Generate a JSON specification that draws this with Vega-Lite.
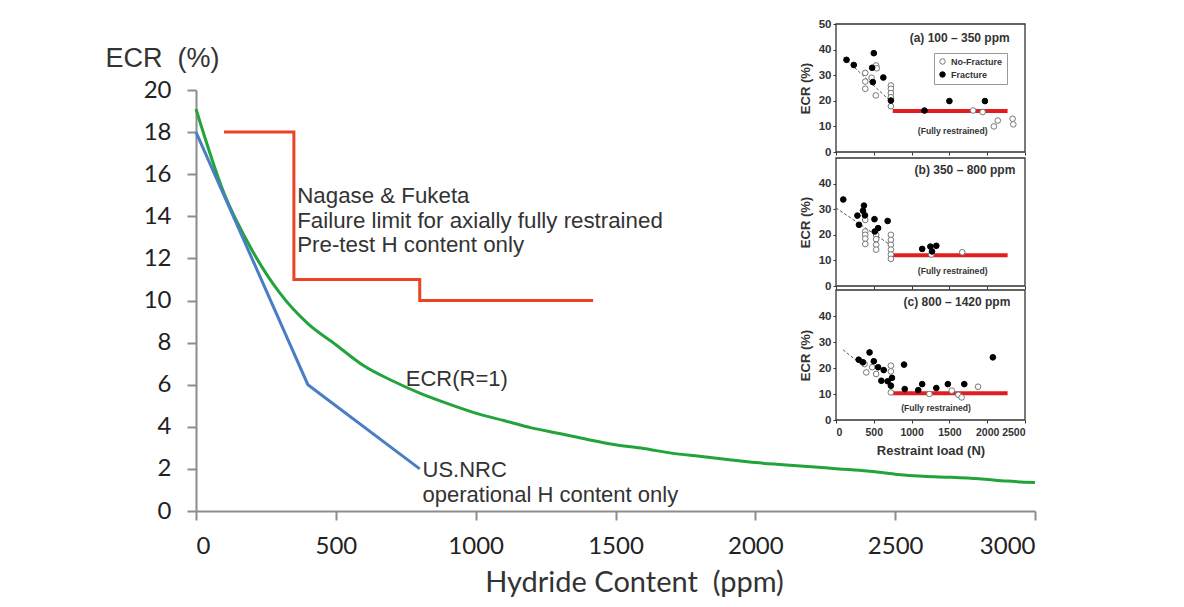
{
  "$schema": "https://vega.github.io/schema/vega-lite/v6.json",
  "width": 839,
  "height": 421,
  "autosize": {"type": "none"},
  "padding": {"left": 196, "top": 90, "right": 149, "bottom": 96},
  "background": "white",
  "config": {"view": {"stroke": null}},
  "datasets": {
    "nagase": [
      {"i": 1, "ppm": 100, "ecr": 18}, {"i": 2, "ppm": 350, "ecr": 18}, {"i": 3, "ppm": 350, "ecr": 11},
      {"i": 4, "ppm": 800, "ecr": 11}, {"i": 5, "ppm": 800, "ecr": 10}, {"i": 6, "ppm": 1420, "ecr": 10}
    ],
    "nrc": [
      {"ppm": 0, "ecr": 18}, {"ppm": 400, "ecr": 6}, {"ppm": 800, "ecr": 2}
    ],
    "ecr1": [
      {"ppm": 0, "ecr": 19.1}, {"ppm": 100, "ecr": 15.1}, {"ppm": 200, "ecr": 12.4}, {"ppm": 300, "ecr": 10.35},
      {"ppm": 400, "ecr": 8.9}, {"ppm": 500, "ecr": 7.9}, {"ppm": 600, "ecr": 6.9}, {"ppm": 700, "ecr": 6.2},
      {"ppm": 800, "ecr": 5.6}, {"ppm": 900, "ecr": 5.1}, {"ppm": 1000, "ecr": 4.65}, {"ppm": 1100, "ecr": 4.3},
      {"ppm": 1200, "ecr": 3.95}, {"ppm": 1300, "ecr": 3.68}, {"ppm": 1400, "ecr": 3.4}, {"ppm": 1500, "ecr": 3.15},
      {"ppm": 1600, "ecr": 2.97}, {"ppm": 1700, "ecr": 2.75}, {"ppm": 1800, "ecr": 2.6}, {"ppm": 1900, "ecr": 2.45},
      {"ppm": 2000, "ecr": 2.3}, {"ppm": 2100, "ecr": 2.2}, {"ppm": 2200, "ecr": 2.1}, {"ppm": 2300, "ecr": 2.0},
      {"ppm": 2400, "ecr": 1.9}, {"ppm": 2500, "ecr": 1.75}, {"ppm": 2600, "ecr": 1.65}, {"ppm": 2700, "ecr": 1.6},
      {"ppm": 2800, "ecr": 1.53}, {"ppm": 2900, "ecr": 1.42}, {"ppm": 3000, "ecr": 1.35}
    ],
    "pts": [
      {"panel": "a", "type": "No-Fracture", "load": 387, "ecr": 30.9},
      {"panel": "a", "type": "No-Fracture", "load": 387, "ecr": 27.5},
      {"panel": "a", "type": "No-Fracture", "load": 387, "ecr": 24.7},
      {"panel": "a", "type": "No-Fracture", "load": 531, "ecr": 33.8},
      {"panel": "a", "type": "No-Fracture", "load": 539, "ecr": 32.7},
      {"panel": "a", "type": "No-Fracture", "load": 470, "ecr": 29.0},
      {"panel": "a", "type": "No-Fracture", "load": 526, "ecr": 22.1},
      {"panel": "a", "type": "No-Fracture", "load": 726, "ecr": 26.0},
      {"panel": "a", "type": "No-Fracture", "load": 726, "ecr": 24.7},
      {"panel": "a", "type": "No-Fracture", "load": 726, "ecr": 23.0},
      {"panel": "a", "type": "No-Fracture", "load": 726, "ecr": 21.4},
      {"panel": "a", "type": "No-Fracture", "load": 726, "ecr": 17.9},
      {"panel": "a", "type": "No-Fracture", "load": 1814, "ecr": 16.2},
      {"panel": "a", "type": "No-Fracture", "load": 1940, "ecr": 15.6},
      {"panel": "a", "type": "No-Fracture", "load": 2088, "ecr": 10.0},
      {"panel": "a", "type": "No-Fracture", "load": 2140, "ecr": 12.3},
      {"panel": "a", "type": "No-Fracture", "load": 2336, "ecr": 13.0},
      {"panel": "a", "type": "No-Fracture", "load": 2345, "ecr": 10.8},
      {"panel": "a", "type": "Fracture", "load": 139, "ecr": 36.0},
      {"panel": "a", "type": "Fracture", "load": 235, "ecr": 34.0},
      {"panel": "a", "type": "Fracture", "load": 500, "ecr": 38.6},
      {"panel": "a", "type": "Fracture", "load": 478, "ecr": 32.9},
      {"panel": "a", "type": "Fracture", "load": 487, "ecr": 27.3},
      {"panel": "a", "type": "Fracture", "load": 626, "ecr": 29.1},
      {"panel": "a", "type": "Fracture", "load": 726, "ecr": 20.1},
      {"panel": "a", "type": "Fracture", "load": 1170, "ecr": 16.2},
      {"panel": "a", "type": "Fracture", "load": 1500, "ecr": 19.9},
      {"panel": "a", "type": "Fracture", "load": 1970, "ecr": 19.9},
      {"panel": "b", "type": "No-Fracture", "load": 387, "ecr": 25.8},
      {"panel": "b", "type": "No-Fracture", "load": 387, "ecr": 21.3},
      {"panel": "b", "type": "No-Fracture", "load": 387, "ecr": 20.0},
      {"panel": "b", "type": "No-Fracture", "load": 387, "ecr": 18.5},
      {"panel": "b", "type": "No-Fracture", "load": 387, "ecr": 16.4},
      {"panel": "b", "type": "No-Fracture", "load": 531, "ecr": 20.0},
      {"panel": "b", "type": "No-Fracture", "load": 531, "ecr": 18.3},
      {"panel": "b", "type": "No-Fracture", "load": 531, "ecr": 16.1},
      {"panel": "b", "type": "No-Fracture", "load": 531, "ecr": 14.2},
      {"panel": "b", "type": "No-Fracture", "load": 726, "ecr": 20.0},
      {"panel": "b", "type": "No-Fracture", "load": 726, "ecr": 18.0},
      {"panel": "b", "type": "No-Fracture", "load": 726, "ecr": 16.1},
      {"panel": "b", "type": "No-Fracture", "load": 726, "ecr": 14.2},
      {"panel": "b", "type": "No-Fracture", "load": 726, "ecr": 12.3},
      {"panel": "b", "type": "No-Fracture", "load": 726, "ecr": 10.6},
      {"panel": "b", "type": "No-Fracture", "load": 1261, "ecr": 12.3},
      {"panel": "b", "type": "No-Fracture", "load": 1670, "ecr": 13.2},
      {"panel": "b", "type": "Fracture", "load": 96, "ecr": 33.8},
      {"panel": "b", "type": "Fracture", "load": 283, "ecr": 27.5},
      {"panel": "b", "type": "Fracture", "load": 304, "ecr": 23.9},
      {"panel": "b", "type": "Fracture", "load": 370, "ecr": 31.4},
      {"panel": "b", "type": "Fracture", "load": 357, "ecr": 29.4},
      {"panel": "b", "type": "Fracture", "load": 383, "ecr": 27.6},
      {"panel": "b", "type": "Fracture", "load": 509, "ecr": 26.1},
      {"panel": "b", "type": "Fracture", "load": 513, "ecr": 21.3},
      {"panel": "b", "type": "Fracture", "load": 557, "ecr": 22.6},
      {"panel": "b", "type": "Fracture", "load": 683, "ecr": 25.4},
      {"panel": "b", "type": "Fracture", "load": 1140, "ecr": 14.5},
      {"panel": "b", "type": "Fracture", "load": 1248, "ecr": 15.4},
      {"panel": "b", "type": "Fracture", "load": 1327, "ecr": 15.7},
      {"panel": "b", "type": "Fracture", "load": 1270, "ecr": 13.5},
      {"panel": "c", "type": "No-Fracture", "load": 378, "ecr": 21.5},
      {"panel": "c", "type": "No-Fracture", "load": 400, "ecr": 18.3},
      {"panel": "c", "type": "No-Fracture", "load": 478, "ecr": 20.3},
      {"panel": "c", "type": "No-Fracture", "load": 531, "ecr": 17.7},
      {"panel": "c", "type": "No-Fracture", "load": 726, "ecr": 20.9},
      {"panel": "c", "type": "No-Fracture", "load": 726, "ecr": 18.7},
      {"panel": "c", "type": "No-Fracture", "load": 726, "ecr": 10.6},
      {"panel": "c", "type": "No-Fracture", "load": 1235, "ecr": 10.0},
      {"panel": "c", "type": "No-Fracture", "load": 1531, "ecr": 11.3},
      {"panel": "c", "type": "No-Fracture", "load": 1618, "ecr": 9.7},
      {"panel": "c", "type": "No-Fracture", "load": 1662, "ecr": 8.7},
      {"panel": "c", "type": "No-Fracture", "load": 1879, "ecr": 12.8},
      {"panel": "c", "type": "Fracture", "load": 300, "ecr": 23.2},
      {"panel": "c", "type": "Fracture", "load": 357, "ecr": 22.2},
      {"panel": "c", "type": "Fracture", "load": 444, "ecr": 26.0},
      {"panel": "c", "type": "Fracture", "load": 500, "ecr": 22.6},
      {"panel": "c", "type": "Fracture", "load": 557, "ecr": 20.3},
      {"panel": "c", "type": "Fracture", "load": 631, "ecr": 19.2},
      {"panel": "c", "type": "Fracture", "load": 600, "ecr": 15.1},
      {"panel": "c", "type": "Fracture", "load": 683, "ecr": 14.9},
      {"panel": "c", "type": "Fracture", "load": 740, "ecr": 16.2},
      {"panel": "c", "type": "Fracture", "load": 726, "ecr": 13.2},
      {"panel": "c", "type": "Fracture", "load": 900, "ecr": 21.3},
      {"panel": "c", "type": "Fracture", "load": 909, "ecr": 11.9},
      {"panel": "c", "type": "Fracture", "load": 1088, "ecr": 11.5},
      {"panel": "c", "type": "Fracture", "load": 1140, "ecr": 13.8},
      {"panel": "c", "type": "Fracture", "load": 1327, "ecr": 12.3},
      {"panel": "c", "type": "Fracture", "load": 1479, "ecr": 13.8},
      {"panel": "c", "type": "Fracture", "load": 1697, "ecr": 13.8},
      {"panel": "c", "type": "Fracture", "load": 2075, "ecr": 24.1}
    ],
    "trend": [
      {"panel": "a", "load": 100, "ecr": 37}, {"panel": "a", "load": 750, "ecr": 19},
      {"panel": "b", "load": 0, "ecr": 30.5}, {"panel": "b", "load": 720, "ecr": 16},
      {"panel": "c", "load": 93, "ecr": 27}, {"panel": "c", "load": 330, "ecr": 21.5}
    ],
    "limit": [
      {"panel": "a", "load": 750, "ecr": 16}, {"panel": "a", "load": 2270, "ecr": 16},
      {"panel": "b", "load": 750, "ecr": 12}, {"panel": "b", "load": 2270, "ecr": 12},
      {"panel": "c", "load": 750, "ecr": 10.3}, {"panel": "c", "load": 2270, "ecr": 10.3}
    ],
    "frame": [
      {"panel": "a", "x0": 0, "x1": 2500, "y0": 0, "y1": 50},
      {"panel": "b", "x0": 0, "x1": 2500, "y0": 0, "y1": 50},
      {"panel": "c", "x0": 0, "x1": 2500, "y0": 0, "y1": 50}
    ],
    "one": [{}]
  },
  "resolve": {"scale": {"x": "independent", "y": "independent"}},
  "layer": [
    {
      "layer": [
        {
          "data": {"name": "ecr1"},
          "mark": {"type": "line", "color": "#23a33b", "strokeWidth": 3, "interpolate": "monotone"},
          "encoding": {
            "x": {
              "field": "ppm", "type": "quantitative",
              "scale": {"domain": [0, 3000], "nice": false},
              "axis": {
                "orient": "bottom", "values": [0, 500, 1000, 1500, 2000, 2500, 3000], "format": "d", "grid": false,
                "domainColor": "#8c8c8c", "domainWidth": 2, "tickColor": "#8c8c8c", "tickWidth": 2, "tickSize": 9,
                "labelFont": "Lato", "labelFontSize": 24, "labelColor": "#222", "labelPadding": 14,
                "title": "Hydride Content\u00a0 (ppm)", "titleFont": "Lato", "titleFontSize": 29, "titleFontWeight": "normal",
                "titleColor": "#333", "titleX": 438, "titleY": 71, "titleBaseline": "middle", "titleAlign": "center"
              }
            },
            "y": {
              "field": "ecr", "type": "quantitative",
              "scale": {"domain": [0, 20], "nice": false},
              "axis": {
                "orient": "left", "values": [0, 2, 4, 6, 8, 10, 12, 14, 16, 18, 20], "grid": false,
                "domainColor": "#8c8c8c", "domainWidth": 2, "tickColor": "#8c8c8c", "tickWidth": 2, "tickSize": 9,
                "labelFont": "Lato", "labelFontSize": 24, "labelColor": "#222", "labelPadding": 16,
                "title": "ECR\u00a0 (%)", "titleFont": "Liberation Sans", "titleFontSize": 27, "titleFontWeight": "normal",
                "titleColor": "#333", "titleAngle": 0, "titleX": -91, "titleY": -32, "titleAlign": "left", "titleBaseline": "middle"
              }
            }
          }
        },
        {
          "data": {"name": "nrc"},
          "mark": {"type": "line", "color": "#4a7ec4", "strokeWidth": 3},
          "encoding": {
            "x": {"field": "ppm", "type": "quantitative"},
            "y": {"field": "ecr", "type": "quantitative"}
          }
        },
        {
          "data": {"name": "nagase"},
          "mark": {"type": "line", "color": "#ea4424", "strokeWidth": 3},
          "encoding": {
            "x": {"field": "ppm", "type": "quantitative"},
            "y": {"field": "ecr", "type": "quantitative"},
            "order": {"field": "i", "type": "quantitative"}
          }
        },
        {
          "data": {"name": "one"},
          "mark": {"type": "text", "font": "Liberation Sans", "fontSize": 22.3, "color": "#333", "align": "left", "baseline": "alphabetic", "lineHeight": 24.5},
          "encoding": {
            "x": {"datum": 362},
            "y": {"datum": 14.62},
            "text": {"value": ["Nagase & Fuketa", "Failure limit for axially fully restrained", "Pre-test H content only"]}
          }
        },
        {
          "data": {"name": "one"},
          "mark": {"type": "text", "font": "Liberation Sans", "fontSize": 22, "color": "#333", "align": "left", "baseline": "alphabetic"},
          "encoding": {
            "x": {"datum": 750},
            "y": {"datum": 5.94},
            "text": {"value": "ECR(R=1)"}
          }
        },
        {
          "data": {"name": "one"},
          "mark": {"type": "text", "font": "Liberation Sans", "fontSize": 22, "color": "#333", "align": "left", "baseline": "alphabetic", "lineHeight": 25.5},
          "encoding": {
            "x": {"datum": 810},
            "y": {"datum": 1.63},
            "text": {"value": ["US.NRC", "operational H content only"]}
          }
        }
      ]
    },
    {
      "layer": [
        {
          "data": {"name": "frame"},
          "transform": [{"filter": "datum.panel === 'a'"}],
          "mark": {"type": "rect", "fill": "white", "stroke": "#333", "strokeWidth": 1.3},
          "encoding": {
            "x": {
              "field": "x0", "type": "quantitative",
              "scale": {"domain": [0, 2500], "range": [640, 829], "nice": false},
              "axis": {"orient": "bottom", "offset": -359, "values": [0, 500, 1000, 1500, 2000, 2500], "labels": false, "domain": false, "grid": false, "tickSize": 3, "tickColor": "#333", "title": null}
            },
            "x2": {"field": "x1"},
            "y": {
              "field": "y0", "type": "quantitative",
              "scale": {"domain": [0, 50], "range": [62, -66], "nice": false},
              "axis": {"orient": "left", "offset": -640, "values": [0, 10, 20, 30, 40, 50], "domain": false, "grid": false, "tickSize": 3, "tickColor": "#333",
                "labelFont": "Liberation Sans", "labelFontWeight": "bold", "labelFontSize": 11.5, "labelColor": "#333", "labelPadding": 2,
                "title": "ECR (%)", "titleFont": "Liberation Sans", "titleFontSize": 13, "titleFontWeight": "bold", "titleColor": "#333", "titlePadding": 6}
            },
            "y2": {"field": "y1"}
          }
        },
        {
          "data": {"name": "trend"},
          "transform": [{"filter": "datum.panel === 'a'"}],
          "mark": {"type": "line", "color": "#555", "strokeWidth": 1, "strokeDash": [3, 2]},
          "encoding": {"x": {"field": "load", "type": "quantitative"}, "y": {"field": "ecr", "type": "quantitative"}}
        },
        {
          "data": {"name": "limit"},
          "transform": [{"filter": "datum.panel === 'a'"}],
          "mark": {"type": "line", "color": "#e31d1f", "strokeWidth": 4},
          "encoding": {"x": {"field": "load", "type": "quantitative"}, "y": {"field": "ecr", "type": "quantitative"}}
        },
        {
          "data": {"name": "pts"},
          "transform": [{"filter": "datum.panel === 'a'"}],
          "mark": {"type": "point", "shape": "circle", "filled": true, "size": 32, "strokeWidth": 1, "opacity": 1},
          "encoding": {
            "x": {"field": "load", "type": "quantitative"},
            "y": {"field": "ecr", "type": "quantitative"},
            "fill": {"field": "type", "type": "nominal", "scale": {"domain": ["No-Fracture", "Fracture"], "range": ["white", "black"]},
              "legend": {"orient": "none", "legendX": 738, "legendY": -37, "title": null, "strokeColor": "#999", "padding": 4,
                "labelFont": "Liberation Sans", "labelFontWeight": "bold", "labelFontSize": 9, "labelColor": "#333", "symbolSize": 30, "rowPadding": 2, "labelOffset": 4, "symbolStrokeWidth": 1}},
            "stroke": {"field": "type", "type": "nominal", "scale": {"domain": ["No-Fracture", "Fracture"], "range": ["#777", "black"]}, "legend": {"orient": "none", "legendX": 738, "legendY": -37, "title": null, "strokeColor": "#999", "padding": 4,
                "labelFont": "Liberation Sans", "labelFontWeight": "bold", "labelFontSize": 9, "labelColor": "#333", "symbolSize": 30, "rowPadding": 2, "labelOffset": 4, "symbolStrokeWidth": 1}}
          }
        },
        {
          "data": {"name": "one"},
          "mark": {"type": "text", "font": "Liberation Sans", "fontSize": 12, "fontWeight": "bold", "color": "#333", "align": "center", "baseline": "middle"},
          "encoding": {"x": {"datum": 1636}, "y": {"datum": 44.6}, "text": {"value": "(a) 100 – 350 ppm"}}
        },
        {
          "data": {"name": "one"},
          "mark": {"type": "text", "font": "Liberation Sans", "fontSize": 8.6, "fontWeight": "bold", "color": "#333", "align": "center", "baseline": "middle"},
          "encoding": {"x": {"datum": 1543}, "y": {"datum": 8.2}, "text": {"value": "(Fully restrained)"}}
        }
      ]
    },
    {
      "layer": [
        {
          "data": {"name": "frame"},
          "transform": [{"filter": "datum.panel === 'b'"}],
          "mark": {"type": "rect", "fill": "white", "stroke": "#333", "strokeWidth": 1.3},
          "encoding": {
            "x": {
              "field": "x0", "type": "quantitative",
              "scale": {"domain": [0, 2500], "range": [640, 829], "nice": false},
              "axis": {"orient": "bottom", "offset": -225, "values": [0, 500, 1000, 1500, 2000, 2500], "labels": false, "domain": false, "grid": false, "tickSize": 3, "tickColor": "#333", "title": null}
            },
            "x2": {"field": "x1"},
            "y": {
              "field": "y0", "type": "quantitative",
              "scale": {"domain": [0, 50], "range": [196, 68], "nice": false},
              "axis": {"orient": "left", "offset": -640, "values": [0, 10, 20, 30, 40], "domain": false, "grid": false, "tickSize": 3, "tickColor": "#333",
                "labelFont": "Liberation Sans", "labelFontWeight": "bold", "labelFontSize": 11.5, "labelColor": "#333", "labelPadding": 2,
                "title": "ECR (%)", "titleFont": "Liberation Sans", "titleFontSize": 13, "titleFontWeight": "bold", "titleColor": "#333", "titlePadding": 6}
            },
            "y2": {"field": "y1"}
          }
        },
        {
          "data": {"name": "trend"},
          "transform": [{"filter": "datum.panel === 'b'"}],
          "mark": {"type": "line", "color": "#555", "strokeWidth": 1, "strokeDash": [3, 2]},
          "encoding": {"x": {"field": "load", "type": "quantitative"}, "y": {"field": "ecr", "type": "quantitative"}}
        },
        {
          "data": {"name": "limit"},
          "transform": [{"filter": "datum.panel === 'b'"}],
          "mark": {"type": "line", "color": "#e31d1f", "strokeWidth": 4},
          "encoding": {"x": {"field": "load", "type": "quantitative"}, "y": {"field": "ecr", "type": "quantitative"}}
        },
        {
          "data": {"name": "pts"},
          "transform": [{"filter": "datum.panel === 'b'"}],
          "mark": {"type": "point", "shape": "circle", "filled": true, "size": 32, "strokeWidth": 1, "opacity": 1},
          "encoding": {
            "x": {"field": "load", "type": "quantitative"},
            "y": {"field": "ecr", "type": "quantitative"},
            "fill": {"field": "type", "type": "nominal"},
            "stroke": {"field": "type", "type": "nominal"}
          }
        },
        {
          "data": {"name": "one"},
          "mark": {"type": "text", "font": "Liberation Sans", "fontSize": 12, "fontWeight": "bold", "color": "#333", "align": "center", "baseline": "middle"},
          "encoding": {"x": {"datum": 1706}, "y": {"datum": 45.3}, "text": {"value": "(b) 350 – 800 ppm"}}
        },
        {
          "data": {"name": "one"},
          "mark": {"type": "text", "font": "Liberation Sans", "fontSize": 8.6, "fontWeight": "bold", "color": "#333", "align": "center", "baseline": "middle"},
          "encoding": {"x": {"datum": 1543}, "y": {"datum": 5.9}, "text": {"value": "(Fully restrained)"}}
        }
      ]
    },
    {
      "layer": [
        {
          "data": {"name": "frame"},
          "transform": [{"filter": "datum.panel === 'c'"}],
          "mark": {"type": "rect", "fill": "white", "stroke": "#333", "strokeWidth": 1.3},
          "encoding": {
            "x": {
              "field": "x0", "type": "quantitative",
              "scale": {"domain": [0, 2500], "range": [640, 829], "nice": false},
              "axis": {"orient": "bottom", "offset": -91, "values": [0, 500, 1000, 1500, 2000, 2500], "format": "d", "domain": false, "grid": false, "tickSize": 3, "tickColor": "#333",
                "labelFont": "Liberation Sans", "labelFontWeight": "bold", "labelFontSize": 10.5, "labelColor": "#333", "labelPadding": 4,
                "title": "Restraint load (N)", "titleFont": "Liberation Sans", "titleFontSize": 13, "titleFontWeight": "bold", "titleColor": "#333", "titlePadding": 7}
            },
            "x2": {"field": "x1"},
            "y": {
              "field": "y0", "type": "quantitative",
              "scale": {"domain": [0, 50], "range": [330, 200], "nice": false},
              "axis": {"orient": "left", "offset": -640, "values": [0, 10, 20, 30, 40], "domain": false, "grid": false, "tickSize": 3, "tickColor": "#333",
                "labelFont": "Liberation Sans", "labelFontWeight": "bold", "labelFontSize": 11.5, "labelColor": "#333", "labelPadding": 2,
                "title": "ECR (%)", "titleFont": "Liberation Sans", "titleFontSize": 13, "titleFontWeight": "bold", "titleColor": "#333", "titlePadding": 6}
            },
            "y2": {"field": "y1"}
          }
        },
        {
          "data": {"name": "trend"},
          "transform": [{"filter": "datum.panel === 'c'"}],
          "mark": {"type": "line", "color": "#555", "strokeWidth": 1, "strokeDash": [3, 2]},
          "encoding": {"x": {"field": "load", "type": "quantitative"}, "y": {"field": "ecr", "type": "quantitative"}}
        },
        {
          "data": {"name": "limit"},
          "transform": [{"filter": "datum.panel === 'c'"}],
          "mark": {"type": "line", "color": "#e31d1f", "strokeWidth": 4},
          "encoding": {"x": {"field": "load", "type": "quantitative"}, "y": {"field": "ecr", "type": "quantitative"}}
        },
        {
          "data": {"name": "pts"},
          "transform": [{"filter": "datum.panel === 'c'"}],
          "mark": {"type": "point", "shape": "circle", "filled": true, "size": 32, "strokeWidth": 1, "opacity": 1},
          "encoding": {
            "x": {"field": "load", "type": "quantitative"},
            "y": {"field": "ecr", "type": "quantitative"},
            "fill": {"field": "type", "type": "nominal"},
            "stroke": {"field": "type", "type": "nominal"}
          }
        },
        {
          "data": {"name": "one"},
          "mark": {"type": "text", "font": "Liberation Sans", "fontSize": 12, "fontWeight": "bold", "color": "#333", "align": "center", "baseline": "middle"},
          "encoding": {"x": {"datum": 1600}, "y": {"datum": 45.5}, "text": {"value": "(c) 800 – 1420 ppm"}}
        },
        {
          "data": {"name": "one"},
          "mark": {"type": "text", "font": "Liberation Sans", "fontSize": 8.6, "fontWeight": "bold", "color": "#333", "align": "center", "baseline": "middle"},
          "encoding": {"x": {"datum": 1323}, "y": {"datum": 4.7}, "text": {"value": "(Fully restrained)"}}
        }
      ]
    }
  ]
}
